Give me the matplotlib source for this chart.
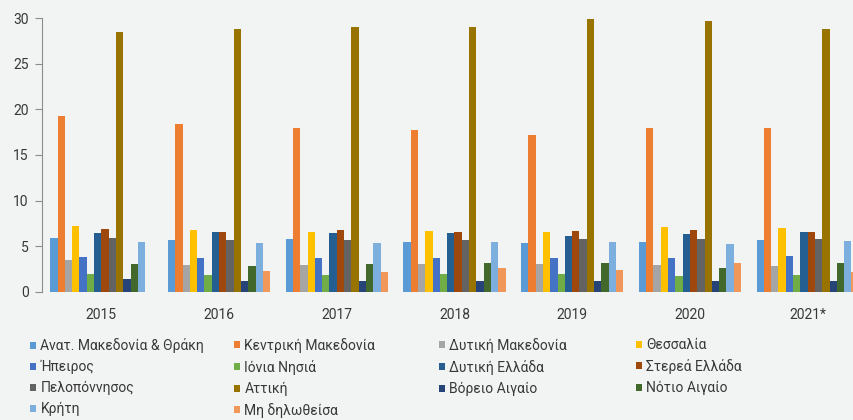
import matplotlib
matplotlib.use("Agg")
import matplotlib.pyplot as plt
import numpy as np

plt.rcParams['font.family'] = ['Roboto', 'DejaVu Sans']

years = ["2015", "2016", "2017", "2018", "2019", "2020", "2021*"]

regions = [
    "Ανατ. Μακεδονία & Θράκη", "Κεντρική Μακεδονία", "Δυτική Μακεδονία", "Θεσσαλία",
    "Ήπειρος", "Ιόνια Νησιά", "Δυτική Ελλάδα", "Στερεά Ελλάδα",
    "Πελοπόννησος", "Αττική", "Βόρειο Αιγαίο", "Νότιο Αιγαίο",
    "Κρήτη", "Μη δηλωθείσα",
]

anat_makedonia = [5.9, 5.7, 5.8, 5.5, 5.3, 5.5, 5.7]
kentriki_makedonia = [19.3, 18.4, 18.0, 17.7, 17.2, 18.0, 18.0]
dytiki_makedonia = [3.5, 2.9, 2.9, 3.0, 3.0, 2.9, 2.8]
thessalia = [7.2, 6.8, 6.6, 6.7, 6.6, 7.1, 7.0]
ipeiros = [3.8, 3.7, 3.7, 3.7, 3.7, 3.7, 3.9]
ionia = [1.9, 1.8, 1.8, 1.9, 1.9, 1.7, 1.8]
dytiki_ellada = [6.4, 6.6, 6.4, 6.4, 6.1, 6.3, 6.5]
sterea_ellada = [6.9, 6.6, 6.8, 6.6, 6.7, 6.8, 6.6]
peloponnisos = [5.9, 5.7, 5.7, 5.7, 5.8, 5.8, 5.8]
attiki = [28.5, 28.8, 29.1, 29.1, 29.9, 29.7, 28.8]
voreio_aigaio = [1.35, 1.2, 1.2, 1.2, 1.2, 1.2, 1.2]
notio_aigaio = [3.0, 2.85, 3.0, 3.2, 3.2, 2.6, 3.2]
kriti = [5.4, 5.3, 5.3, 5.4, 5.5, 5.2, 5.6]
mi_dilotheisa = [0.0, 2.3, 2.2, 2.6, 2.4, 3.2, 2.2]

series = [
    anat_makedonia, kentriki_makedonia, dytiki_makedonia, thessalia,
    ipeiros, ionia, dytiki_ellada, sterea_ellada,
    peloponnisos, attiki, voreio_aigaio, notio_aigaio,
    kriti, mi_dilotheisa,
]

colors = [
    "#5B9BD5", "#ED7D31", "#A5A5A5", "#FFC000",
    "#4472C4", "#70AD47", "#255E91", "#9E480E",
    "#636363", "#997300", "#264478", "#43682B",
    "#7CAFDD", "#F1975A",
]

bg = "#f2f3f3"
text_color = "#383838"

fig = plt.figure(figsize=(8.54, 4.2), dpi=100, facecolor=bg)
ax = fig.add_axes([42.5 / 854, 1 - 291.7 / 420, 1 - 42.5 / 854, (291.7 - 18.3) / 420])
ax.set_facecolor(bg)

x = np.arange(len(years))
n = len(series)
width = 0.062
offsets = (np.arange(n) - (n - 1) / 2) * width

handles = []
for vals, col, off, name in zip(series, colors, offsets, regions):
    h = ax.bar(x + off, vals, width=width, color=col, label=name, linewidth=0)
    handles.append(h)

ax.set_xlim(-0.5, 6.394)
ax.set_ylim(0, 30)
ax.set_yticks(range(0, 31, 5))
ax.set_xticks(x)
ax.set_xticklabels(years)

for s in ["top", "right", "bottom"]:
    ax.spines[s].set_visible(False)
ax.spines["left"].set_color("#8c8c8c")
ax.spines["left"].set_linewidth(0.8)
ax.tick_params(axis="y", direction="out", length=5, color="#8c8c8c",
               labelsize=10, labelcolor=text_color, pad=5)
ax.tick_params(axis="x", length=0, labelsize=10, labelcolor=text_color, pad=12)

# legend laid out in four equally spaced columns
col_x = [30, 234, 439, 636]
columns = [[0, 4, 8, 12], [1, 5, 9, 13], [2, 6, 10], [3, 7, 11]]
for cx, idxs in zip(col_x, columns):
    leg = fig.legend([handles[i] for i in idxs], [regions[i] for i in idxs],
                     loc="upper left", bbox_to_anchor=(cx / 854, 1 - 338 / 420),
                     ncol=1, frameon=False, fontsize=10,
                     handlelength=0.4, handleheight=0.4, handletextpad=0.35,
                     labelspacing=0.5, borderaxespad=0, borderpad=0)
    for t in leg.get_texts():
        t.set_color(text_color)

fig.savefig("out.png", dpi=100, facecolor=bg)
